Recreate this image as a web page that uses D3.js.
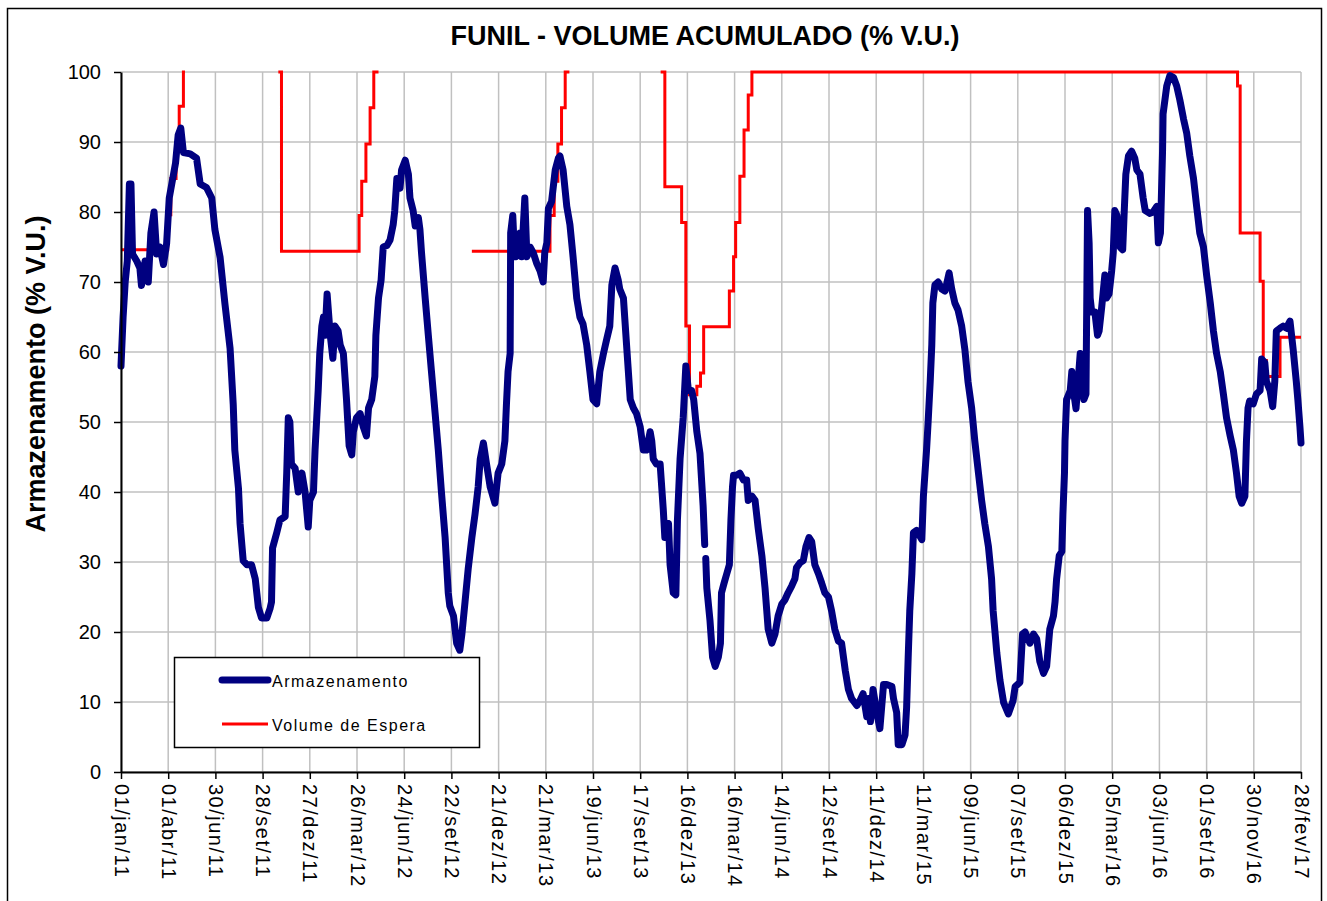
<!DOCTYPE html>
<html>
<head>
<meta charset="utf-8">
<script src="https://cdn.jsdelivr.net/npm/d3@7"></script>
<style>
  body { margin: 0; background: #fff; }
  svg { display: block; font-family: "Liberation Sans", Arial, sans-serif; }
</style>
</head>
<body>
<div id="chart"></div>
<script>
// dias contados a partir de 01/jan/11, valor em % V.U.
const armazenamento = [
  [0,58],[4,65],[8,70],[12,73],[16,84],[19,84],[22,74],[30,73],[36,72],[39,69.5],[46,73],[52,70],[57,77],[63,80],[68,74],[74,75],[81,72.5],[87,75.5],
  [92,82],[98,84.5],[104,87],[109,91],[114,92],[119,88.5],[132,88.3],[144,87.7],[151,84],[163,83.5],[173,82],[179,77.5],[189,73.5],[198,67],[208,60.5],
  [214,52.5],[217,46],[224,40.5],[227,35.5],[233,30.2],[240,29.6],[249,29.6],[256,27.6],[262,23.5],[268,22],[278,22],[284,23.3],[287,24.3],[289,32],
  [297,34.2],[303,36],[313,36.5],[316,42.7],[319,50.6],[322,50],[325,44],[332,43.4],[338,40],[345,42.7],[351,40],[357,35],[360,38.8],[367,40],[370,46],
  [376,54.5],[379,59.8],[383,63.7],[386,65],[389,62.4],[393,68.3],[399,62.4],[404,59.1],[408,63.7],[414,63],[418,61],[424,59.8],[430,53.2],[435,46.6],
  [440,45.3],[443,48.6],[449,50.6],[456,51.2],[462,49.3],[468,48],[472,52],[478,53.2],[484,56.5],[486,62.4],[491,67.7],[496,70.3],[500,75],[507,75.2],
  [513,76],[519,78.2],[522,80.2],[526,84.8],[532,83.4],[535,86],[542,87.4],[548,85.4],[551,82],[557,80.2],[561,78],[567,79.2],[570,77.5],[573,74.2],
  [580,67.7],[586,62.4],[592,57.2],[599,51.2],[605,46],[611,40],[618,33.5],[624,25.6],[627,23.7],[634,22.3],[640,18.4],[646,17.4],[650,19.7],[656,24.3],
  [662,29],[669,33.5],[675,36.8],[681,40.7],[685,44.7],[691,47],[697,44],[704,40.7],[713,38.4],[719,42.7],[726,44],[732,47.3],[735,52.6],[738,57.2],
  [742,59.8],[743,77],[747,79.5],[749,76.2],[753,73.6],[758,74.2],[761,77],[764,73.6],[770,82],[774,73.6],[780,75],[786,74.2],[793,72.6],[799,71.6],
  [805,70],[808,74.2],[812,75.6],[815,80.5],[821,81.5],[828,86],[834,87.7],[837,88],[843,86],[850,80.8],[856,78.2],[862,73.6],[869,67.7],[875,65],
  [881,64],[888,61],[894,57.2],[900,53.2],[907,52.6],[913,57.2],[920,59.8],[926,61.8],[932,63.7],[936,69.6],[942,72],[948,70.3],[951,69],[958,67.7],
  [964,61],[971,53.2],[977,52],[983,51.2],[990,49.3],[996,46],[1002,46],[1009,48.6],[1012,47.3],[1015,44.7],[1021,44],[1028,44],[1034,37.5],[1037,33.5],
  [1044,35.5],[1047,29.6],[1053,25.6],[1058,25.3],[1061,36],[1066,44.7],[1072,50.6],[1077,58],[1082,54.5],[1088,54.5],[1092,53.2],[1098,48.6],
  [1104,45.5],[1110,38],[1113,32.5],[1114,null],[1115,30.5],[1117,26.3],[1123,21.7],[1128,16.4],[1133,15.1],[1139,16.4],[1143,18.4],[1145,25.6],
  [1150,27],[1155,28.3],[1160,29.6],[1163,36],[1166,40.7],[1168,42.4],[1174,42.4],[1180,42.7],[1187,41.7],[1193,41.7],[1196,38.8],[1203,39.4],
  [1209,38.8],[1215,34.8],[1222,30.9],[1228,26.3],[1234,20.4],[1241,18.4],[1247,19.7],[1253,22.3],[1260,24],[1266,24.6],[1272,25.6],[1279,26.6],
  [1285,27.6],[1288,29.2],[1295,29.9],[1301,30.2],[1306,32.2],[1312,33.5],[1317,32.9],[1323,29.6],[1330,28.3],[1336,27],[1342,25.6],[1349,25],
  [1355,23],[1361,20.4],[1368,18.7],[1374,18.4],[1381,14.5],[1387,11.8],[1393,10.5],[1403,9.5],[1409,10.2],[1415,11.2],[1422,7.9],[1425,10.5],
  [1429,7.2],[1434,11.8],[1441,8.5],[1447,6.2],[1454,12.5],[1460,12.5],[1470,12.2],[1473,10.5],[1479,8.5],[1482,3.9],[1489,3.9],[1495,5.3],[1498,9.2],
  [1501,16.4],[1504,23],[1508,28.3],[1511,34.2],[1517,34.5],[1527,33.2],[1530,39.4],[1533,42.7],[1536,46],[1539,50],[1543,55.8],[1546,61],[1548,67],
  [1552,69.6],[1558,70],[1565,69],[1571,68.7],[1574,69.6],[1579,71.3],[1584,69],[1590,67],[1596,66],[1603,63.7],[1609,60.4],[1615,55.8],[1622,52],
  [1628,47.3],[1635,42.7],[1641,38.8],[1647,35.5],[1654,32.2],[1660,27.6],[1663,23],[1670,17],[1676,13.1],[1683,9.9],[1692,8.3],[1701,10.2],
  [1705,12.2],[1714,12.8],[1719,19.7],[1724,20],[1733,18.4],[1740,19.7],[1746,19],[1752,15.8],[1759,14.1],[1765,15.1],[1771,20.4],[1778,22.3],
  [1781,24.3],[1784,27.6],[1789,30.9],[1794,31.5],[1796,36.8],[1799,42.7],[1800,47.3],[1803,53.2],[1810,54.5],[1813,57.2],[1816,54.5],[1821,51.9],
  [1825,55.8],[1829,59.8],[1832,55.8],[1836,53.2],[1840,54],[1843,80.2],[1846,75.6],[1848,67.7],[1851,65.7],[1857,65.7],[1862,62.4],[1865,63],
  [1870,66.4],[1876,71],[1879,67.7],[1884,68.3],[1889,71.6],[1892,74.2],[1895,80.2],[1899,79.5],[1902,75.6],[1905,75],[1910,74.6],[1913,80.2],
  [1916,85.4],[1921,88],[1927,88.7],[1933,87.7],[1937,86],[1943,85.4],[1949,82],[1953,80.2],[1962,79.8],[1968,80],[1975,80.8],[1978,75.6],[1982,77],
  [1986,88.7],[1987,94],[1994,98],[2000,99.5],[2007,99.2],[2013,98],[2019,96],[2026,93.3],[2032,91.3],[2038,88],[2045,84.8],[2051,80.8],[2057,77],
  [2064,75],[2070,71],[2077,67],[2083,63],[2089,59.8],[2096,57.2],[2102,54],[2108,50.6],[2115,48],[2121,46],[2127,42.7],[2132,39.4],[2137,38.4],
  [2143,39.4],[2146,47.3],[2149,52],[2152,53],[2159,52.6],[2165,54],[2172,54.5],[2175,59],[2181,58.5],[2184,55.8],[2191,54.5],[2196,52.2],[2200,55.8],
  [2203,63],[2210,63.4],[2216,63.7],[2222,63.4],[2229,64.4],[2232,62.4],[2235,60.4],[2241,55.8],[2244,53.2],[2248,49.3],[2250,47]
];

// degraus do volume de espera (null = sem dado)
const volumeEspera = [
  [0,74.6],[89,79.6],[95,84.8],[105,89.8],[111,95.1],[119,100],[122,100],[123,null],
  [300,100],[306,74.4],[454,79.5],[459,84.4],[467,89.7],[475,94.9],[482,100],[491,100],[492,null],
  [669,74.4],[818,79.5],[826,84.4],[833,89.7],[840,94.9],[847,100],[855,100],[856,null],
  [1029,100],[1037,83.6],[1069,78.5],[1077,63.7],[1084,53.9],[1098,55.1],[1105,57],[1111,63.6],[1160,68.7],[1168,73.6],
  [1172,78.5],[1180,85.1],[1188,91.7],[1196,96.7],[1203,100],[2129,98],[2134,77],[2172,70.1],[2178,58.8],[2184,56.5],
  [2210,62.1],[2250,62.1]
];

const meses = ["jan","fev","mar","abr","mai","jun","jul","ago","set","out","nov","dez"];
const yTicks = [0,10,20,30,40,50,60,70,80,90,100];
const diasTicks = d3.range(0, 2251, 90); // um rótulo a cada 90 dias

const width = 1327, height = 901;
const margin = {top: 72, right: 26, bottom: 129, left: 121};

const inicio = new Date(Date.UTC(2011, 0, 1));
const dia = d => d3.utcDay.offset(inicio, d);
const fmt = d => String(d.getUTCDate()).padStart(2, "0") + "/" + meses[d.getUTCMonth()] + "/" + String(d.getUTCFullYear()).slice(2);

const svg = d3.select("#chart").append("svg")
    .attr("width", width)
    .attr("height", height);

// borda do gráfico
svg.append("rect")
    .attr("x", 7.5).attr("y", 8.5)
    .attr("width", 1314).attr("height", 900)
    .style("fill", "none").style("stroke", "#000").style("stroke-width", "1.5px");

const x = d3.scaleUtc()
    .domain([dia(0), dia(2250)])
    .range([margin.left, width - margin.right]);
const y = d3.scaleLinear()
    .domain([0, 100])
    .range([height - margin.bottom, margin.top]);

// grade
svg.append("g").selectAll("line.h")
    .data(yTicks)
    .join("line")
    .attr("x1", margin.left).attr("x2", width - margin.right)
    .attr("y1", d => y(d)).attr("y2", d => y(d))
    .style("stroke", "#c0c0c0").style("stroke-width", "1.5px");

svg.append("g").selectAll("line.v")
    .data(diasTicks)
    .join("line")
    .attr("x1", d => x(dia(d))).attr("x2", d => x(dia(d)))
    .attr("y1", margin.top).attr("y2", height - margin.bottom)
    .style("stroke", "#c0c0c0").style("stroke-width", "1.5px");

// volume de espera
const linhaEspera = d3.line()
    .defined(d => d[1] != null)
    .x(d => x(dia(d[0])))
    .y(d => y(d[1]))
    .curve(d3.curveStepAfter);

svg.append("path")
    .datum(volumeEspera)
    .attr("d", linhaEspera)
    .style("fill", "none")
    .style("stroke", "#ff0000")
    .style("stroke-width", "3px");

// armazenamento
const linhaArm = d3.line()
    .defined(d => d[1] != null)
    .x(d => x(dia(d[0])))
    .y(d => y(d[1]));

svg.append("path")
    .datum(armazenamento)
    .attr("d", linhaArm)
    .style("fill", "none")
    .style("stroke", "#000080")
    .style("stroke-width", "7px")
    .style("stroke-linejoin", "round")
    .style("stroke-linecap", "round");

// eixos
const eixoY = svg.append("g")
    .attr("transform", `translate(${margin.left},0)`)
    .call(d3.axisLeft(y).tickValues(yTicks).tickSize(7).tickPadding(13).tickSizeOuter(0));
eixoY.select(".domain").style("stroke-width", "2px");
eixoY.selectAll(".tick line").style("stroke-width", "1.5px");
eixoY.selectAll("text").style("font-size", "20px").style("fill", "#000");

const eixoX = svg.append("g")
    .attr("transform", `translate(0,${height - margin.bottom})`)
    .call(d3.axisBottom(x).tickValues(diasTicks.map(dia)).tickFormat(fmt).tickSize(7).tickSizeOuter(0));
eixoX.select(".domain").style("stroke-width", "2px");
eixoX.selectAll(".tick line").style("stroke-width", "1.5px");
eixoX.selectAll("text")
    .attr("transform", "rotate(90)")
    .attr("x", 12)
    .attr("y", 0)
    .attr("dy", "0.35em")
    .style("text-anchor", "start")
    .style("font-size", "20px")
    .style("letter-spacing", "1.5px")
    .style("fill", "#000");

// título
svg.append("text")
    .attr("x", 705)
    .attr("y", 45)
    .attr("text-anchor", "middle")
    .text("FUNIL - VOLUME ACUMULADO (% V.U.)")
    .style("font-size", "27px")
    .style("font-weight", "bold");

svg.append("text")
    .attr("transform", "translate(45,374) rotate(-90)")
    .attr("text-anchor", "middle")
    .text("Armazenamento (% V.U.)")
    .style("font-size", "27px")
    .style("font-weight", "bold");

// legenda
const leg = svg.append("g");
leg.append("rect")
    .attr("x", 174.5).attr("y", 657.5)
    .attr("width", 305).attr("height", 90)
    .style("fill", "#fff").style("stroke", "#000").style("stroke-width", "1.5px");

leg.append("line")
    .attr("x1", 222).attr("x2", 268).attr("y1", 680).attr("y2", 680)
    .style("stroke", "#000080").style("stroke-width", "7px").style("stroke-linecap", "round");
leg.append("text")
    .attr("x", 272).attr("y", 687)
    .text("Armazenamento")
    .style("font-size", "16px").style("letter-spacing", "1.5px");

leg.append("line")
    .attr("x1", 222).attr("x2", 268).attr("y1", 724).attr("y2", 724)
    .style("stroke", "#ff0000").style("stroke-width", "3px");
leg.append("text")
    .attr("x", 272).attr("y", 731)
    .text("Volume de Espera")
    .style("font-size", "16px").style("letter-spacing", "1.5px");
</script>
</body>
</html>
